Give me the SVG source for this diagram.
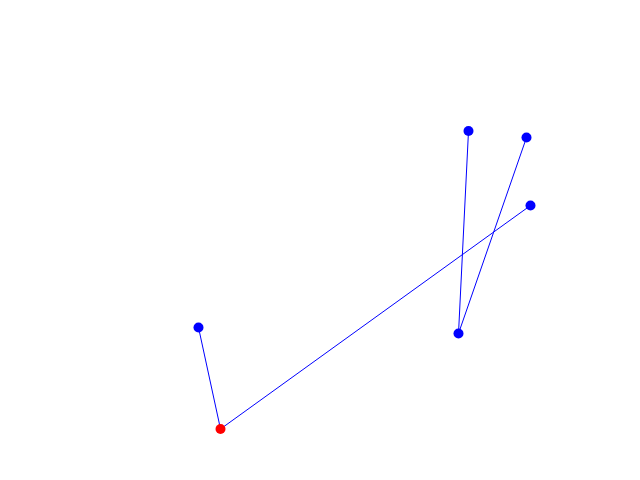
<svg xmlns="http://www.w3.org/2000/svg" width="640" height="480" viewBox="0 0 640 480">
<style>
.e{stroke:#0000ff;stroke-width:1;fill:none}
.n{fill:#0000ff}
.r{fill:#ff0000}
</style>
<rect width="640" height="480" fill="#ffffff"/>
<g id="edges">
<line class="e" x1="198.5" y1="327.5" x2="220.5" y2="429"/>
<line class="e" x1="220.5" y1="429" x2="530.5" y2="205.5"/>
<line class="e" x1="468.5" y1="131" x2="458.5" y2="333.5"/>
<line class="e" x1="458.5" y1="333.5" x2="526.5" y2="137.5"/>
</g>
<g id="n1"><circle class="n" cx="468.5" cy="131" r="5"/></g>
<g id="n2"><circle class="n" cx="526.5" cy="137.5" r="5"/></g>
<g id="n3"><circle class="n" cx="530.5" cy="205.5" r="5"/></g>
<g id="n4"><circle class="n" cx="458.5" cy="333.5" r="5"/></g>
<g id="n5"><circle class="n" cx="198.5" cy="327.5" r="5"/></g>
<g id="n6"><circle class="r" cx="220.5" cy="429" r="5"/></g>
</svg>
